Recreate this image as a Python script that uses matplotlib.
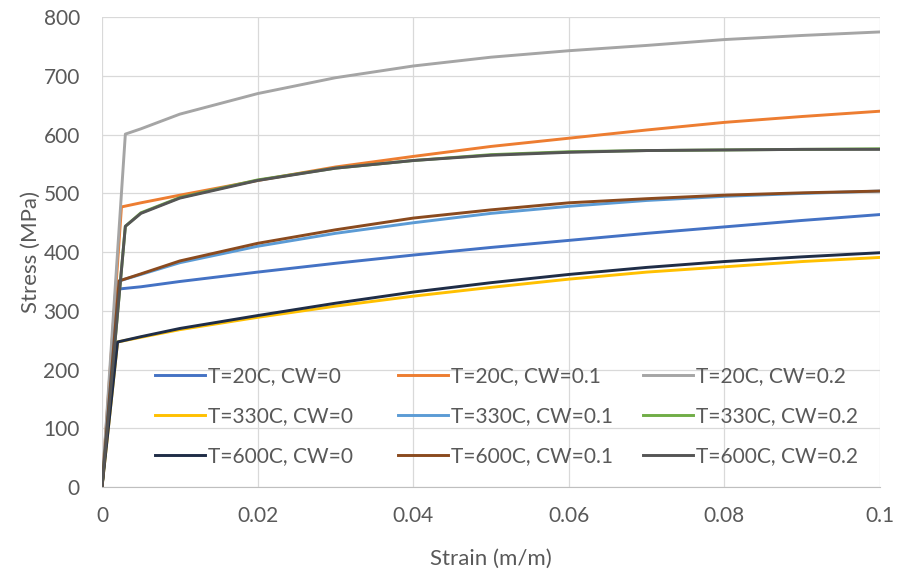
import matplotlib
matplotlib.use("Agg")
import matplotlib.pyplot as plt

plt.rcParams['font.family'] = ['Lato', 'DejaVu Sans']

# strain points (m/m) after the yield point of each curve
strain_common = [0.005, 0.01, 0.02, 0.03, 0.04, 0.05, 0.06, 0.07, 0.08, 0.09, 0.1]

labels = ['T=20C, CW=0', 'T=20C, CW=0.1', 'T=20C, CW=0.2',
          'T=330C, CW=0', 'T=330C, CW=0.1', 'T=330C, CW=0.2',
          'T=600C, CW=0', 'T=600C, CW=0.1', 'T=600C, CW=0.2']
colors = ['#4472c4', '#ed7d31', '#a5a5a5',
          '#ffc000', '#5b9bd5', '#70ad47',
          '#1f2d47', '#8a4a1e', '#555555']

yield_strain = [0.002, 0.0025, 0.003, 0.002, 0.0022, 0.003, 0.002, 0.0022, 0.003]
yield_stress = [337, 477, 601, 247, 351, 444, 247, 351, 444]

# stress (MPa) at strain_common
t20_cw0 = [341, 350, 366, 381, 395, 408, 420, 432, 443, 454, 464]
t20_cw01 = [484, 497, 522, 545, 563, 580, 594, 608, 621, 631, 640]
t20_cw02 = [610, 635, 670, 697, 717, 732, 743, 752, 762, 769, 775]
t330_cw0 = [255, 268, 289, 308, 325, 340, 354, 366, 375, 384, 391]
t330_cw01 = [362, 382, 410, 432, 450, 466, 478, 488, 495, 500, 504]
t330_cw02 = [467, 493, 523, 543, 556, 566, 571, 573, 574, 575, 576]
t600_cw0 = [256, 270, 292, 313, 332, 348, 362, 374, 384, 392, 399]
t600_cw01 = [363, 385, 415, 438, 458, 472, 484, 491, 497, 501, 504]
t600_cw02 = [466, 492, 522, 543, 556, 565, 570, 573, 574, 575, 575]

series = [t20_cw0, t20_cw01, t20_cw02, t330_cw0, t330_cw01, t330_cw02,
          t600_cw0, t600_cw01, t600_cw02]

fig = plt.figure(figsize=(8.98, 5.75), dpi=100)
ax = fig.add_axes([0.1136, 0.153, 0.8664, 0.817])

lines = []
for lab, col, ey, sy, vals in zip(labels, colors, yield_strain, yield_stress, series):
    x = [0, ey] + strain_common
    y = [0, sy] + vals
    ln, = ax.plot(x, y, color=col, lw=2.1, label=lab)
    lines.append(ln)

ax.set_xlim(0, 0.1)
ax.set_ylim(0, 800)
ax.set_xticks([0, 0.02, 0.04, 0.06, 0.08, 0.1])
ax.set_xticklabels(['0', '0.02', '0.04', '0.06', '0.08', '0.1'])
ax.set_yticks(range(0, 801, 100))
ax.grid(True, color='#d9d9d9', lw=0.9)
ax.set_axisbelow(True)
for s in ['top', 'right', 'left']:
    ax.spines[s].set_visible(False)
ax.spines['bottom'].set_color('#bfbfbf')
ax.tick_params(axis='x', length=0, colors='#595959', labelsize=15, pad=14)
ax.tick_params(axis='y', length=0, colors='#595959', labelsize=15, pad=16)

ax.set_xlabel('Strain (m/m)', color='#595959', fontsize=16, labelpad=16)
ax.set_ylabel('Stress (MPa)', color='#595959', fontsize=16, labelpad=2)

# legend laid out row by row: one legend per column
col_x = [0.068, 0.380, 0.695]
for i, cx in enumerate(col_x):
    idx = [i, i + 3, i + 6]
    leg = ax.legend([lines[k] for k in idx], [labels[k] for k in idx],
                    loc='upper left', bbox_to_anchor=(cx, 0.257),
                    frameon=False, fontsize=15, handlelength=2.4,
                    handletextpad=0.15, labelspacing=0.95, borderpad=0,
                    borderaxespad=0, labelcolor='#595959')
    if i < 2:
        ax.add_artist(leg)

fig.savefig('out.png', dpi=100)
